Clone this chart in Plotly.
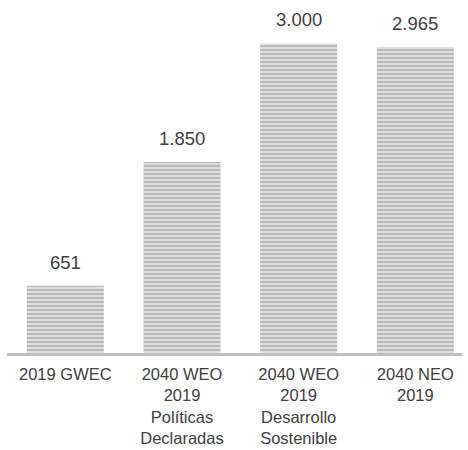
import plotly.graph_objects as go

categories = ["2019 GWEC", "2040 WEO<br>2019<br>Políticas<br>Declaradas",
              "2040 WEO<br>2019<br>Desarrollo<br>Sostenible", "2040 NEO<br>2019"]
values = [651, 1850, 3000, 2965]
labels = ["651", "1.850", "3.000", "2.965"]

xs = list(range(len(categories)))
fig = go.Figure(go.Bar(
    x=xs, y=values, width=0.66,
    marker=dict(color="#d9d9d9", line=dict(width=0),
                pattern=dict(shape="-", fgcolor="#8a8a8a", bgcolor="#dedede",
                             size=4, solidity=0.45)),
))

for x, v, t in zip(xs, values, labels):
    fig.add_annotation(x=x, y=v, text=t, showarrow=False, yanchor="bottom",
                       yshift=11, font=dict(size=18.5, color="#404040"))

fig.update_layout(
    width=468, height=450, margin=dict(l=7, r=6, t=20, b=97),
    paper_bgcolor="white", plot_bgcolor="white",
    showlegend=False,
    font=dict(family="Liberation Sans", color="#404040", size=16.5),
    xaxis=dict(range=[-0.5, 3.40], tickvals=xs, automargin=False,
               ticktext=categories, showline=True, linecolor="#c0c0c0",
               linewidth=3, showgrid=False, ticks="", zeroline=False,
               ticklabelstandoff=4,
               tickfont=dict(size=16.5, color="#404040")),
    yaxis=dict(range=[0, 3227], visible=False, showgrid=False, zeroline=False,
               automargin=False),
)

fig.write_html("out.html", config={"displayModeBar": False},
               post_script="document.body.style.margin='0';")
